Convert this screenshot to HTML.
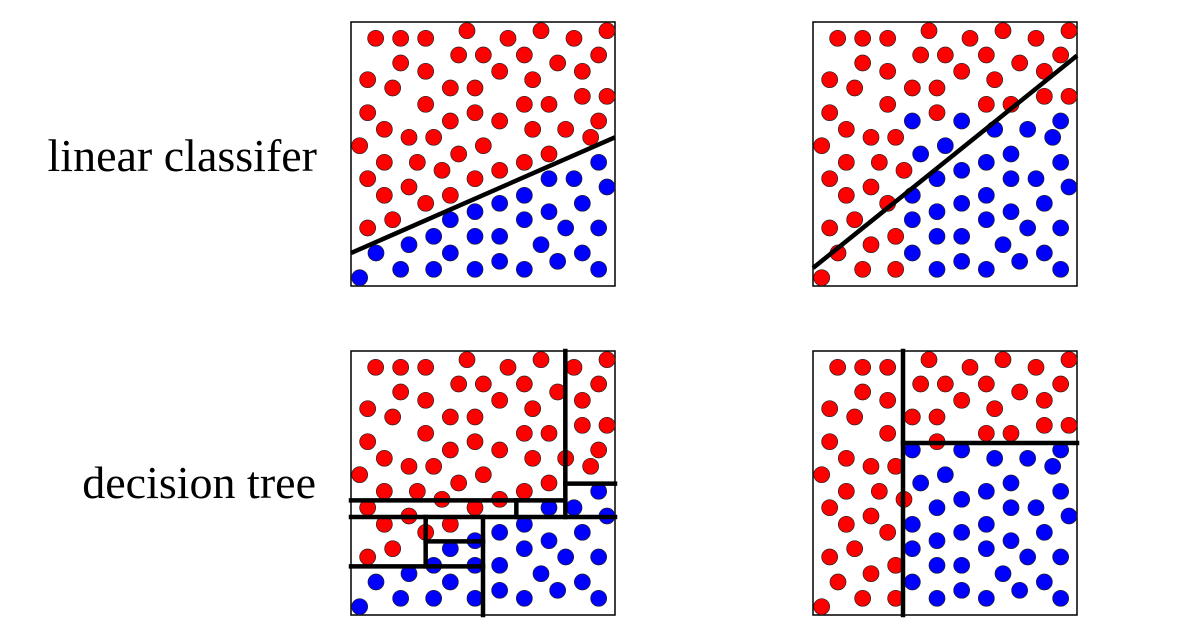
<!DOCTYPE html>
<html><head><meta charset="utf-8"><style>
html,body{margin:0;padding:0;background:#fff;}
svg{display:block;}
text{font-family:"Liberation Serif",serif;font-size:46px;fill:#000;}
</style></head><body>
<svg id="fig" width="1189" height="632" viewBox="0 0 1189 632">
<text x="317" y="171" text-anchor="end">linear classifer</text>
<text x="316" y="498" text-anchor="end">decision tree</text>
</svg>
<script>
// point coordinates (in reference grid units 14..806)
const ptX = [88,163,238,362,485,584,683,782,163,337,411,534,634,757,238,460,708,64,139,312,386,559,708,782,238,534,608,64,386,312,460,757,114,559,658,188,262,733,40,411,337,608,114,213,534,757,64,287,386,460,608,683,114,188,312,782,238,460,534,708,64,139,312,386,534,608,658,757,262,188,386,460,89,312,584,708,163,262,386,460,534,634,757,40];
const ptY = [63,63,63,40,63,40,63,40,137,113,113,113,137,113,162,162,162,187,212,212,212,187,237,237,261,261,261,286,286,311,311,311,336,336,336,360,360,360,385,385,410,410,435,435,435,435,484,459,484,459,484,484,534,509,534,509,558,558,534,558,632,607,607,583,607,583,632,632,657,682,657,657,707,707,682,707,756,756,756,732,756,732,756,781];
// class labels: 1-based indices of blue points
const blueSetA = [46,51,52,56,58,59,60,63,64,65,66,67,68,69,70,71,72,73,74,75,76,77,78,79,80,81,82,83,84];
const blueSetB = [30,31,32,34,35,38,40,41,42,45,46,49,50,51,52,55,56,58,59,60,63,64,65,66,67,68,71,72,74,75,76,79,80,81,82,83];
// linear boundaries (endpoints in grid units)
const lineA = [[14,707],[806,360]];
const lineB = [[14,752],[806,115]];
// tree splits [x1,y1,x2,y2] in grid units
const treeA = [[657,14,657,512],[14,462,657,462],[14,512,806,512],[657,412,806,412],[510,462,510,512],[410,512,410,806],[238,512,238,660],[14,660,410,660],[238,585,410,585]];
const treeB = [[284,14,284,806],[284,290,806,290]];

const NS = "http://www.w3.org/2000/svg";
const svg = document.getElementById('fig');
const panels = [
  {left:351, top:22, set:blueSetA, line:lineA, name:'linear-panel-a'},
  {left:813, top:22, set:blueSetB, line:lineB, name:'linear-panel-b'},
  {left:351, top:351, set:blueSetA, tree:treeA, name:'tree-panel-a'},
  {left:813, top:351, set:blueSetB, tree:treeB, name:'tree-panel-b'}
];
function mk(tag, attrs){const e=document.createElementNS(NS,tag);for(const k in attrs)e.setAttribute(k,attrs[k]);return e;}
panels.forEach(p=>{
  const sx = v => p.left + (v-14)/3;
  const sy = v => p.top + (v-14)/3;
  const g = mk('g',{});
  
  
  svg.appendChild(g);
  const frame = mk('rect',{x:p.left,y:p.top,width:264,height:264,fill:'#fff',stroke:'#000','stroke-width':1.5});
  
  
  g.appendChild(frame);
  const dots = mk('g',{});
  g.appendChild(dots);
  for(let i=0;i<ptX.length;i++){
    const blue = p.set.includes(i+1);
    const c = mk('circle',{cx:sx(ptX[i]),cy:sy(ptY[i]),r:8,fill:blue?'#0000ff':'#ff0000',stroke:'#222','stroke-width':0.7});
    
    
    dots.appendChild(c);
  }
  if(p.line){
    const l = mk('line',{x1:sx(p.line[0][0]),y1:sy(p.line[0][1]),x2:sx(p.line[1][0]),y2:sy(p.line[1][1]),stroke:'#000','stroke-width':4.5});
    
    
    g.appendChild(l);
  }
  if(p.tree){
    p.tree.forEach(s=>{
      const l = mk('line',{x1:sx(s[0]),y1:sy(s[1]),x2:sx(s[2]),y2:sy(s[3]),stroke:'#000','stroke-width':4.5,'stroke-linecap':'square'});
      
      
      g.appendChild(l);
    });
  }
});
</script>
</body></html>
